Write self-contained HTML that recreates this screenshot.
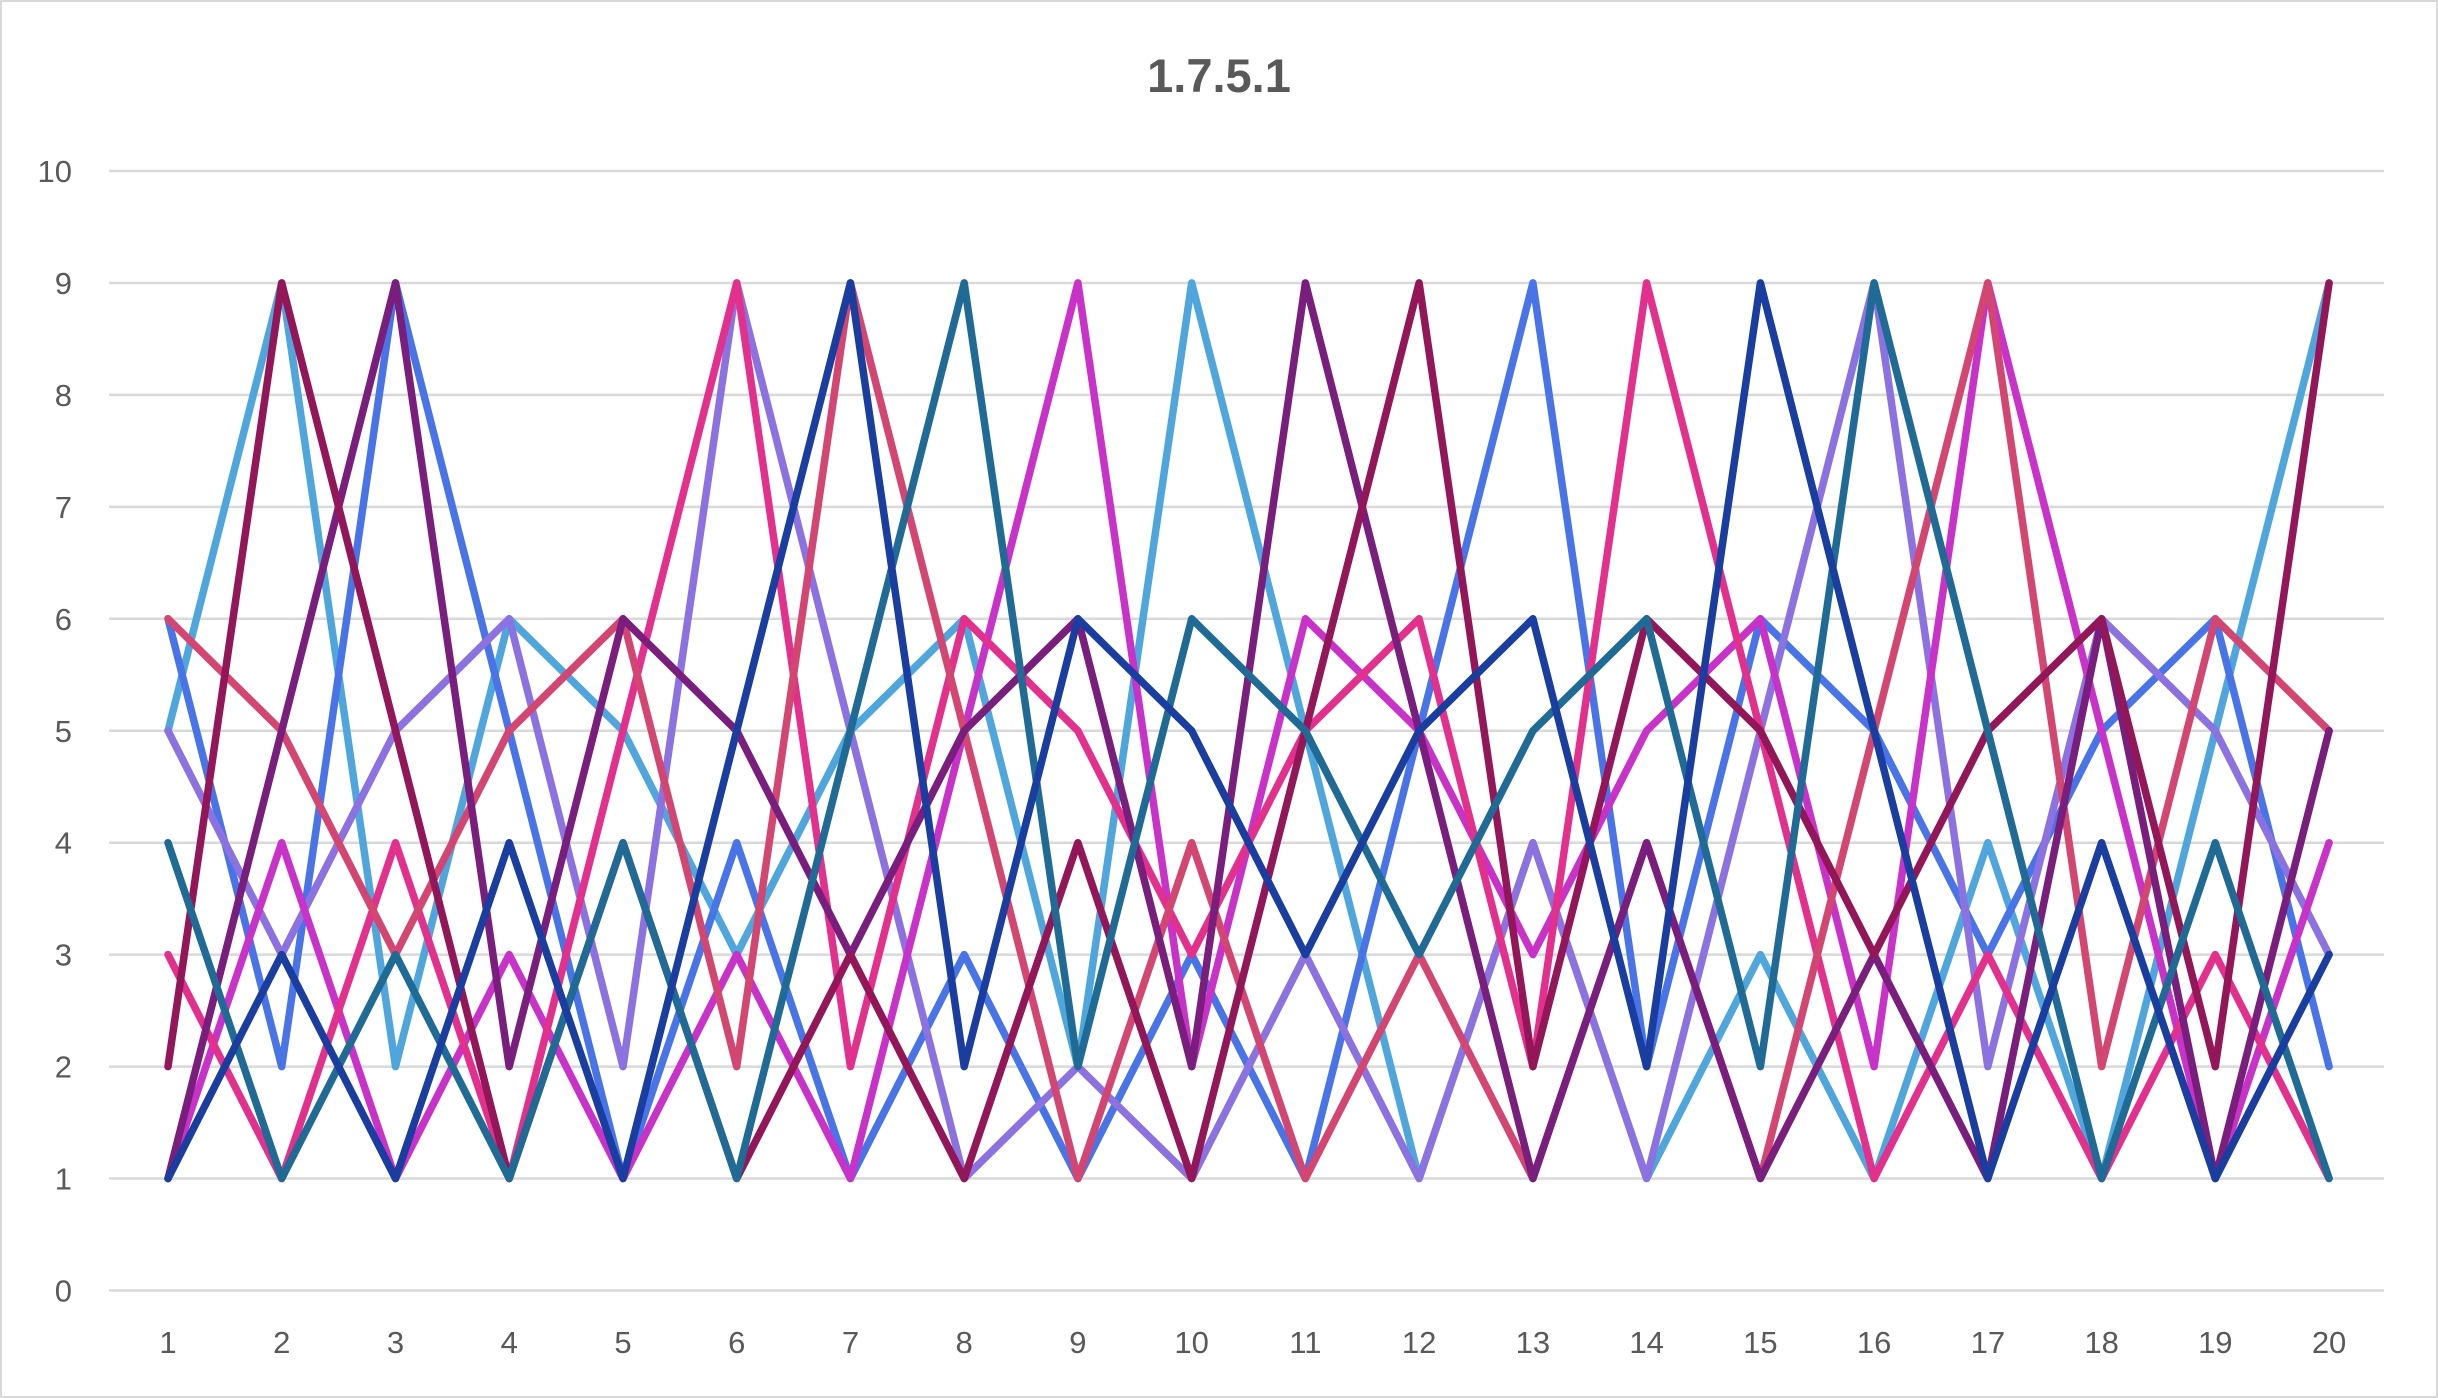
<!DOCTYPE html>
<html><head><meta charset="utf-8"><style>
html,body{margin:0;padding:0;background:#fff;}
svg{display:block;font-family:"Liberation Sans",sans-serif;}
</style></head><body>
<svg width="2438" height="1398" viewBox="0 0 2438 1398" xmlns="http://www.w3.org/2000/svg">
<rect x="1" y="1" width="2436" height="1396" fill="#fff" stroke="#d9d9d9" stroke-width="2"/>
<text x="1219" y="92" text-anchor="middle" font-size="47" font-weight="bold" fill="#595959">1.7.5.1</text>
<g id="grid" stroke="#d9d9d9" stroke-width="2.5"></g>
<g id="ylab" font-size="31" fill="#595959" text-anchor="end"></g>
<g id="xlab" font-size="31" fill="#595959" text-anchor="middle"></g>
<g id="series" fill="none" stroke-width="7.5" stroke-linejoin="round" stroke-linecap="round"></g>
</svg>
<script>
var X=function(i){return 168+(i-1)*113.74;};
var Y=function(v){return 1290.5-v*111.95;};
var ns="http://www.w3.org/2000/svg";
var g=document.getElementById('grid'),yl=document.getElementById('ylab'),xl=document.getElementById('xlab'),s=document.getElementById('series');
for(var v=0;v<=10;v++){var l=document.createElementNS(ns,'line');l.setAttribute('x1',109);l.setAttribute('x2',2384);l.setAttribute('y1',Y(v));l.setAttribute('y2',Y(v));g.appendChild(l);
var t=document.createElementNS(ns,'text');t.setAttribute('x',72);t.setAttribute('y',Y(v)+11);t.textContent=v;yl.appendChild(t);}
for(var i=1;i<=20;i++){var t=document.createElementNS(ns,'text');t.setAttribute('x',X(i));t.setAttribute('y',1353);t.textContent=i;xl.appendChild(t);}
var data=[
["#4EA6DC",[5,9,2,6,5,3,5,6,2,9,5,1,4,1,3,1,4,1,5,9]],
["#4874E8",[6,2,9,5,1,4,1,3,1,3,1,5,9,2,6,5,3,5,6,2]],
["#8C72E0",[5,3,5,6,2,9,5,1,2,1,3,1,4,1,5,9,2,6,5,3]],
["#C832C8",[1,4,1,3,1,3,1,5,9,2,6,5,3,5,6,2,9,5,1,4]],
["#E2308C",[3,1,4,1,5,9,2,6,5,3,5,6,2,9,5,1,3,1,3,1]],
["#D44672",[6,5,3,5,6,2,9,5,1,4,1,3,1,4,1,5,9,2,6,5]],
["#7A1E7E",[1,5,9,2,6,5,3,5,6,2,9,5,1,4,1,3,1,6,1,5]],
["#921658",[2,9,5,1,4,1,3,1,4,1,5,9,2,6,5,3,5,6,2,9]],
["#1F6B95",[4,1,3,1,4,1,5,9,2,6,5,3,5,6,2,9,5,1,4,1]],
["#1A3DA0",[1,3,1,4,1,5,9,2,6,5,3,5,6,2,9,5,1,4,1,3]]
];
data.forEach(function(d){var p=document.createElementNS(ns,'polyline');
p.setAttribute('points',d[1].map(function(v,k){return X(k+1).toFixed(1)+','+Y(v).toFixed(1);}).join(' '));
p.setAttribute('stroke',d[0]);s.appendChild(p);});
</script>
</body></html>
